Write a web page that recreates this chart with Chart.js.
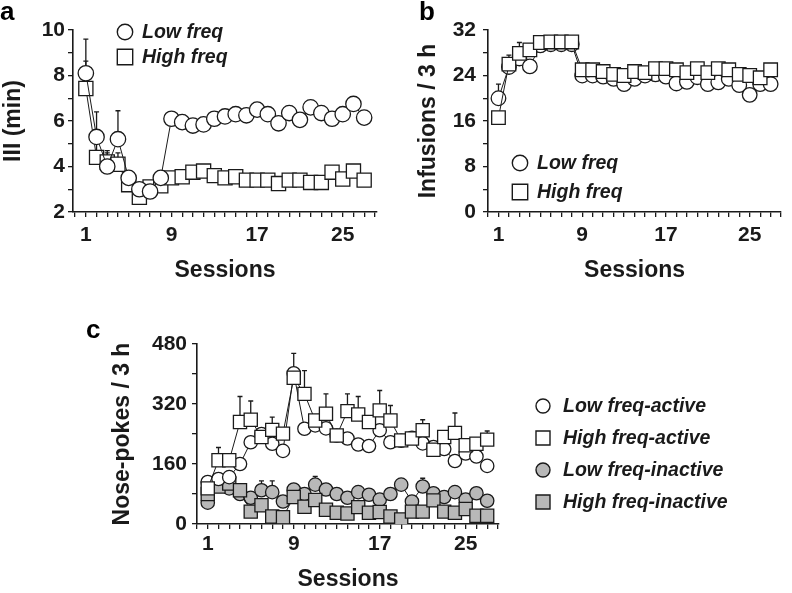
<!DOCTYPE html>
<html>
<head>
<meta charset="utf-8">
<script src="https://cdn.jsdelivr.net/npm/chart.js@4.4.1/dist/chart.umd.min.js"></script>
<style>
  body { margin: 0; background: #fff; width: 792px; height: 593px; position: relative; overflow: hidden; }
  canvas { position: absolute; }
  .tag { position: absolute; font: bold 26px "Liberation Sans", Arial, sans-serif; }
</style>
</head>
<body>
<canvas id="ca" width="395" height="290" style="left:0;top:0"></canvas>
<canvas id="cb" width="397" height="290" style="left:395px;top:0"></canvas>
<canvas id="cc" width="792" height="303" style="left:0;top:290px"></canvas>
<div class="tag" style="left:0;top:-4px">a</div>
<div class="tag" style="left:419px;top:-4px">b</div>
<div class="tag" style="left:86px;top:314px">c</div>
<script>
const sessions = [1, 2, 3, 4, 5, 6, 7, 8, 9, 10, 11, 12, 13, 14, 15, 16, 17, 18, 19, 20, 21, 22, 23, 24, 25, 26, 27];

// panel a - inter-infusion interval (min)
const iiiLow  = [8.1, 5.3, 4.0, 5.2, 3.5, 3.0, 2.9, 3.5, 6.1, 5.95, 5.8, 5.85, 6.1, 6.2, 6.3, 6.25, 6.5, 6.3, 5.9, 6.35, 6.05, 6.6, 6.35, 6.1, 6.3, 6.75, 6.15];
const iiiHigh = [7.43, 4.4, 4.2, 4.1, 3.2, 2.65, 3.1, 3.15, 3.5, 3.55, 3.75, 3.8, 3.6, 3.5, 3.55, 3.4, 3.4, 3.4, 3.25, 3.4, 3.4, 3.3, 3.3, 3.75, 3.45, 3.8, 3.4];
const iiiLowErr  = [1.5, 1.1, 0.6, 1.25, 0, 0, 0, 0, 0, 0, 0, 0, 0, 0, 0, 0, 0, 0, 0, 0, 0, 0, 0, 0, 0, 0, 0];
const iiiHighErr = [1.2, 0.9, 0.5, 0.5, 0, 0, 0, 0, 0, 0, 0, 0, 0, 0, 0, 0, 0, 0, 0, 0, 0, 0, 0, 0, 0, 0, 0];

// panel b - infusions / 3 h
const infLow  = [20, 25.5, 27, 25.6, 29.3, 29.5, 29.5, 29.5, 24, 24, 23.8, 23.4, 22.5, 23.4, 24, 24.2, 23.8, 22.6, 22.9, 23.7, 22.5, 22.8, 23.4, 22.3, 20.6, 22.5, 22.5];
const infHigh = [16.6, 26, 27.9, 28.5, 29.8, 29.9, 29.9, 29.9, 25, 25, 24.7, 24.2, 24, 24.7, 24.5, 25.2, 25.2, 25, 24.5, 25.2, 24.5, 25.2, 25, 24.2, 24, 23.6, 25];
const infLowErr  = [2.5, 0, 0, 0, 0, 0, 0, 0, 0, 0, 0, 0, 0, 0, 0, 0, 0, 0, 0, 0, 0, 0, 0, 0, 0, 0, 0];
const infHighErr = [0, 1.6, 1.9, 0, 0, 0, 0, 0, 0, 0, 0, 0, 0, 0, 0, 0, 0, 0, 0, 0, 0, 0, 0, 0, 0, 0, 0];

// panel c - nose-pokes / 3 h
const npLowAct    = [112, 120, 125, 160, 218, 240, 214, 195, 402, 254, 263, 255, 236, 228, 212, 208, 250, 218, 222, 230, 215, 205, 200, 168, 188, 180, 155];
const npHighAct   = [95, 170, 170, 272, 278, 232, 251, 241, 390, 347, 276, 294, 236, 301, 292, 272, 303, 276, 223, 228, 250, 198, 232, 243, 210, 214, 225];
const npLowInact  = [57, 105, 95, 80, 70, 90, 85, 60, 92, 80, 105, 92, 80, 70, 85, 78, 65, 80, 105, 60, 100, 82, 72, 85, 65, 82, 62];
const npHighInact = [80, 100, 108, 90, 33, 50, 20, 18, 72, 46, 64, 38, 30, 28, 45, 30, 32, 20, 12, 33, 33, 63, 33, 30, 40, 22, 22];
const npLowActErr    = [0, 0, 0, 0, 0, 0, 0, 0, 53, 0, 0, 0, 0, 0, 0, 0, 0, 0, 0, 0, 0, 0, 0, 0, 0, 0, 0];
const npHighActErr   = [0, 34, 0, 68, 50, 15, 34, 0, 0, 62, 0, 53, 0, 46, 48, 0, 53, 40, 0, 0, 28, 0, 0, 53, 0, 0, 23];
const npLowInactErr  = [0, 0, 0, 0, 0, 25, 30, 0, 0, 0, 22, 0, 0, 0, 0, 0, 0, 0, 0, 0, 22, 0, 0, 0, 0, 0, 0];
const npHighInactErr = [0, 35, 30, 0, 0, 0, 0, 0, 0, 0, 0, 0, 0, 0, 0, 0, 0, 0, 0, 0, 0, 0, 0, 0, 0, 0, 0];

const FONT = '"Liberation Sans", Arial, sans-serif';
const INK = '#1a1a1a';
const GREY = '#b8b8b8';

const pts = (ys) => sessions.map((s, i) => ({ x: s, y: ys[i] }));

// order: lower number is painted on top
function series(label, ys, errs, style, fill, r, order) {
  return {
    label, data: pts(ys), errUp: errs, order,
    borderColor: INK, borderWidth: 1,
    pointStyle: style, pointRadius: r, pointHoverRadius: r,
    pointBackgroundColor: fill, pointBorderColor: INK, pointBorderWidth: 1.3,
    tension: 0
  };
}

// upward error bars with caps, drawn under the markers
const errorBars = {
  id: 'errorBars',
  beforeDatasetsDraw(chart) {
    const ctx = chart.ctx, ys = chart.scales.y;
    ctx.save();
    ctx.strokeStyle = INK;
    ctx.lineWidth = 1.3;
    chart.data.datasets.forEach((ds, di) => {
      const meta = chart.getDatasetMeta(di);
      (ds.errUp || []).forEach((e, i) => {
        if (!e) return;
        const p = meta.data[i];
        const top = ys.getPixelForValue(ds.data[i].y + e);
        ctx.beginPath();
        ctx.moveTo(p.x, p.y);
        ctx.lineTo(p.x, top);
        ctx.moveTo(p.x - 2.5, top);
        ctx.lineTo(p.x + 2.5, top);
        ctx.stroke();
      });
    });
    ctx.restore();
  }
};

// marker legend drawn at a fixed spot
const markLegend = {
  id: 'markLegend',
  afterDraw(chart, args, opts) {
    const ctx = chart.ctx;
    ctx.save();
    ctx.font = 'italic bold ' + opts.size + 'px ' + FONT;
    ctx.textBaseline = 'middle';
    chart.data.datasets.forEach((ds, i) => {
      const x = opts.x, y = opts.y + i * opts.dy, r = opts.r;
      ctx.fillStyle = ds.pointBackgroundColor;
      ctx.strokeStyle = INK;
      ctx.lineWidth = 1.4;
      ctx.beginPath();
      if (ds.pointStyle === 'rect') ctx.rect(x - r, y - r, 2 * r, 2 * r);
      else ctx.arc(x, y, r, 0, Math.PI * 2);
      ctx.fill();
      ctx.stroke();
      ctx.fillStyle = INK;
      ctx.fillText(ds.label, opts.tx, y + 1);
    });
    ctx.restore();
  }
};

function makeChart(id, datasets, cfg) {
  return new Chart(document.getElementById(id), {
    type: 'line',
    data: { datasets },
    plugins: [errorBars, markLegend],
    options: {
      responsive: false,
      animation: false,
      events: [],
      layout: { padding: cfg.padding },
      plugins: {
        legend: { display: false },
        tooltip: { enabled: false },
        markLegend: cfg.legend
      },
      scales: {
        x: {
          type: 'linear', min: cfg.xMin, max: cfg.xMax,
          afterFit: (s) => { s.height = cfg.xHeight; },
          border: { color: INK, width: 1.6 },
          grid: { drawOnChartArea: false, color: INK, tickLength: 5, lineWidth: 1.3 },
          ticks: {
            stepSize: 1, autoSkip: false, includeBounds: false, maxRotation: 0, color: INK,
            padding: cfg.xTickPad,
            font: { family: FONT, size: 21, weight: 'bold' },
            callback: (v) => (v >= 1 && (v - 1) % 8 === 0 ? String(v) : '')
          },
          title: {
            display: true, text: 'Sessions', color: INK,
            font: { family: FONT, size: 23, weight: 'bold' },
            padding: { top: 0, bottom: cfg.xTitlePad }
          }
        },
        y: {
          min: cfg.yMin, max: cfg.yMax,
          afterFit: (s) => { s.width = cfg.yWidth; },
          border: { color: INK, width: 1.6 },
          grid: { drawOnChartArea: false, color: INK, tickLength: 5, lineWidth: 1.3 },
          ticks: {
            stepSize: cfg.yMinor, autoSkip: false, color: INK, padding: cfg.yTickPad,
            font: { family: FONT, size: 21, weight: 'bold' },
            callback: (v) => ((v - cfg.yMin) % cfg.yMajor === 0 ? String(v) : '')
          },
          title: {
            display: true, text: cfg.yTitle, color: INK,
            font: { family: FONT, size: 23, weight: 'bold' },
            padding: { top: 0, bottom: 0 }
          }
        }
      }
    }
  });
}

makeChart('ca', [
  series('Low freq', iiiLow, iiiLowErr, 'circle', '#fff', 7.7, 0),
  series('High freq', iiiHigh, iiiHighErr, 'rect', '#fff', 10, 1)
], {
  padding: { top: 30, right: 18, left: 0, bottom: 0 },
  xHeight: 78, yWidth: 73, xTitlePad: 6, xTickPad: 6, yTickPad: 3,
  xMin: -0.2, xMax: 28.2,
  yMin: 2, yMax: 10, yMinor: 1, yMajor: 2, yTitle: 'III (min)',
  legend: { x: 125, y: 32, dy: 25, r: 7.7, tx: 142, size: 19.5 }
});

makeChart('cb', [
  series('Low freq', infLow, infLowErr, 'circle', '#fff', 7.3, 1),
  series('High freq', infHigh, infHighErr, 'rect', '#fff', 9.6, 0)
], {
  padding: { top: 30, right: 0, left: 20, bottom: 0 },
  xHeight: 78, yWidth: 73, xTitlePad: 6, xTickPad: 6, yTickPad: 7,
  xMin: 0, xMax: 28,
  yMin: 0, yMax: 32, yMinor: 4, yMajor: 8, yTitle: 'Infusions / 3 h',
  legend: { x: 125, y: 163, dy: 29, r: 7.7, tx: 142, size: 19.5 }
});

makeChart('cc', [
  series('Low freq-active', npLowAct, npLowActErr, 'circle', '#fff', 6.7, 1),
  series('High freq-active', npHighAct, npHighActErr, 'rect', '#fff', 9.3, 0),
  series('Low freq-inactive', npLowInact, npLowInactErr, 'circle', GREY, 6.7, 3),
  series('High freq-inactive', npHighInact, npHighInactErr, 'rect', GREY, 9.3, 2)
], {
  padding: { top: 54, right: 293, left: 109, bottom: 0 },
  xHeight: 69, yWidth: 88, xTitlePad: 0, xTickPad: 3, yTickPad: 5,
  xMin: 0, xMax: 28.1,
  yMin: 0, yMax: 480, yMinor: 80, yMajor: 160, yTitle: 'Nose-pokes / 3 h',
  legend: { x: 543, y: 116, dy: 32, r: 7, tx: 563, size: 19.5 }
});
</script>
</body>
</html>
